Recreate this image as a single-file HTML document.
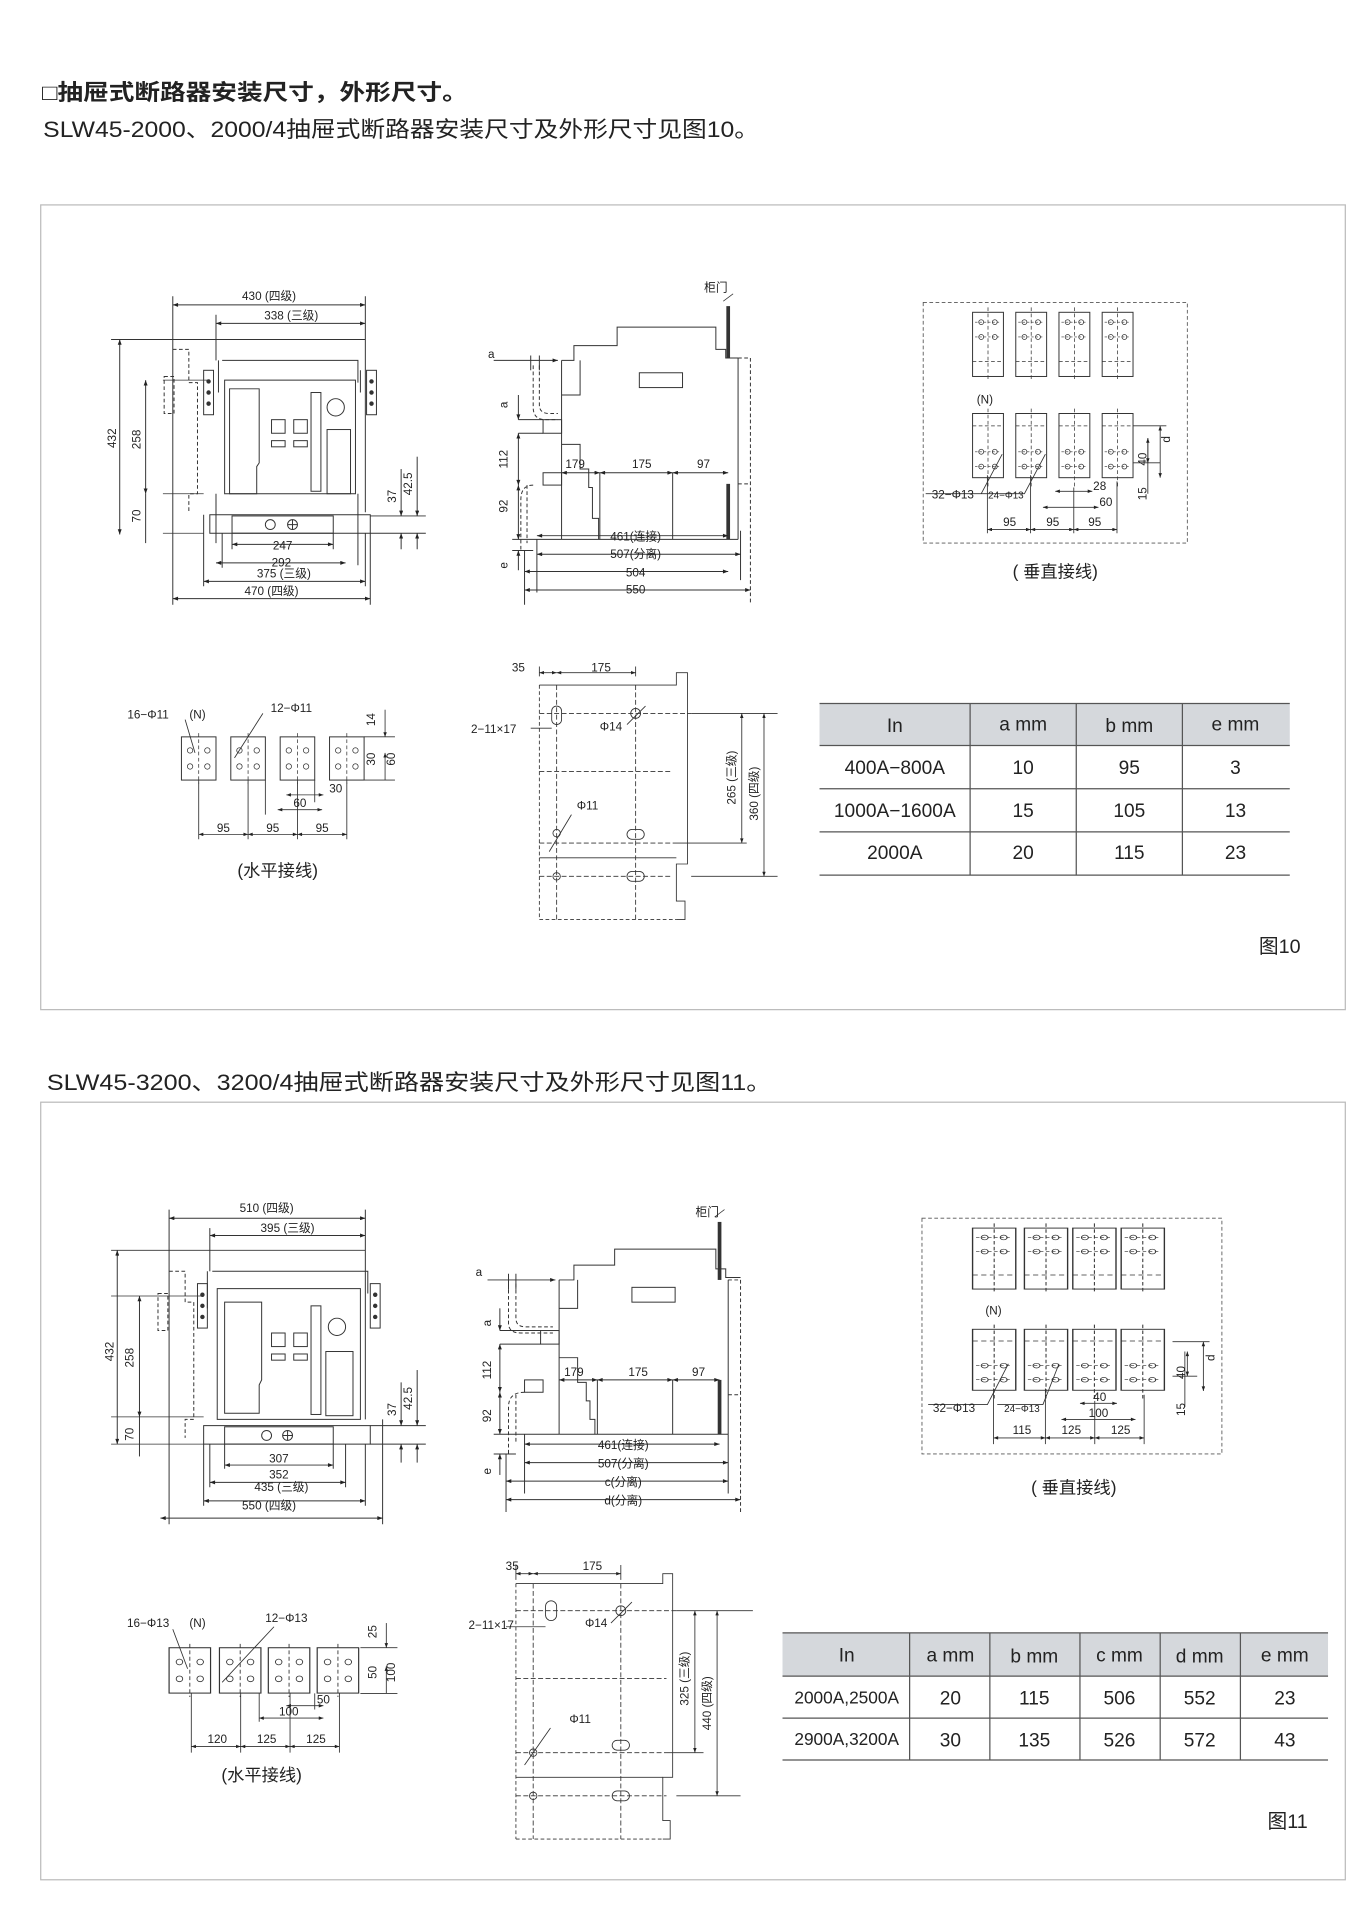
<!DOCTYPE html>
<html><head><meta charset="utf-8"><style>
html,body{margin:0;padding:0;background:#fff}
svg{display:block}
text{font-family:"Liberation Sans","Noto Sans CJK SC",sans-serif;fill:#222}
</style></head><body>
<svg width="1370" height="1923" viewBox="0 0 1110 1558" xmlns="http://www.w3.org/2000/svg">
<defs>
<marker id="ar" viewBox="0 0 8 6" refX="8" refY="3" markerWidth="6" markerHeight="4" orient="auto-start-reverse"><path d="M0,0L8,3L0,6z" fill="#222"/></marker>
<g id="bbT"><rect x="0" y="0" width="25" height="52" fill="none" stroke="#333" stroke-width="0.8"/><line x1="12.5" y1="-4" x2="12.5" y2="56" stroke="#333" stroke-width="0.6" stroke-dasharray="3,2"/><line x1="0" y1="40" x2="25" y2="40" stroke="#333" stroke-width="0.6" stroke-dasharray="3,2"/><line x1="2" y1="8" x2="23" y2="8" stroke="#333" stroke-width="0.5" stroke-dasharray="2,1.5"/><line x1="2" y1="20" x2="23" y2="20" stroke="#333" stroke-width="0.5" stroke-dasharray="2,1.5"/><circle cx="7" cy="8" r="2" fill="none" stroke="#333" stroke-width="0.6"/><circle cx="18" cy="8" r="2" fill="none" stroke="#333" stroke-width="0.6"/><circle cx="7" cy="20" r="2" fill="none" stroke="#333" stroke-width="0.6"/><circle cx="18" cy="20" r="2" fill="none" stroke="#333" stroke-width="0.6"/></g>
<g id="bbB"><rect x="0" y="0" width="25" height="52" fill="none" stroke="#333" stroke-width="0.8"/><line x1="12.5" y1="-4" x2="12.5" y2="60" stroke="#333" stroke-width="0.6" stroke-dasharray="3,2"/><line x1="0" y1="10" x2="25" y2="10" stroke="#333" stroke-width="0.6" stroke-dasharray="3,2"/><line x1="2" y1="31" x2="23" y2="31" stroke="#333" stroke-width="0.5" stroke-dasharray="2,1.5"/><line x1="2" y1="43" x2="23" y2="43" stroke="#333" stroke-width="0.5" stroke-dasharray="2,1.5"/><circle cx="7" cy="31" r="2" fill="none" stroke="#333" stroke-width="0.6"/><circle cx="18" cy="31" r="2" fill="none" stroke="#333" stroke-width="0.6"/><circle cx="7" cy="43" r="2" fill="none" stroke="#333" stroke-width="0.6"/><circle cx="18" cy="43" r="2" fill="none" stroke="#333" stroke-width="0.6"/></g>
<g id="hb"><rect x="0" y="0" width="28" height="35" fill="none" stroke="#333" stroke-width="0.8"/><line x1="14" y1="-3" x2="14" y2="38" stroke="#333" stroke-width="0.6" stroke-dasharray="3,2"/><circle cx="7" cy="11" r="2.2" fill="none" stroke="#333" stroke-width="0.6"/><circle cx="21" cy="11" r="2.2" fill="none" stroke="#333" stroke-width="0.6"/><circle cx="7" cy="24" r="2.2" fill="none" stroke="#333" stroke-width="0.6"/><circle cx="21" cy="24" r="2.2" fill="none" stroke="#333" stroke-width="0.6"/></g>
</defs>

<text x="34" y="81" font-size="18" font-weight="bold" textLength="345" lengthAdjust="spacingAndGlyphs">□抽屉式断路器安装尺寸，外形尺寸。</text>
<text x="35" y="111" font-size="18" fill="#333" textLength="580" lengthAdjust="spacingAndGlyphs">SLW45-2000、2000/4抽屉式断路器安装尺寸及外形尺寸见图10。</text>
<text x="38" y="883" font-size="18" fill="#333" textLength="587" lengthAdjust="spacingAndGlyphs">SLW45-3200、3200/4抽屉式断路器安装尺寸及外形尺寸见图11。</text>

<rect x="33" y="166" width="1057" height="652" fill="none" stroke="#bbb" stroke-width="1"/>
<rect x="33" y="893" width="1057" height="630" fill="none" stroke="#bbb" stroke-width="1"/>

<!-- ===== FIG 10 front view ===== -->
<g stroke="#333" stroke-width="0.8" fill="none">
<line x1="140" y1="247" x2="296" y2="247" marker-start="url(#ar)" marker-end="url(#ar)"/>
<line x1="175" y1="262" x2="296" y2="262" marker-start="url(#ar)" marker-end="url(#ar)"/>
<line x1="140" y1="240" x2="140" y2="490"/><line x1="296" y1="240" x2="296" y2="415"/><line x1="175" y1="255" x2="175" y2="292"/>
<line x1="90" y1="275" x2="296" y2="275"/>
<path d="M180,292H290V310"/><path d="M177,292V318M292,300V318"/>
<rect x="165" y="300" width="8" height="36"/><rect x="297" y="300" width="8" height="36"/>
<circle cx="169" cy="309" r="1.4" fill="#333"/><circle cx="169" cy="318" r="1.4" fill="#333"/><circle cx="169" cy="327" r="1.4" fill="#333"/>
<circle cx="301" cy="309" r="1.4" fill="#333"/><circle cx="301" cy="318" r="1.4" fill="#333"/><circle cx="301" cy="327" r="1.4" fill="#333"/>
<path d="M182,308H288V400H182Z"/>
<path d="M186,315H210V375L208,378V400H186Z"/>
<rect x="220" y="340" width="11" height="11"/><rect x="238" y="340" width="11" height="11"/>
<rect x="220" y="357" width="11" height="5"/><rect x="238" y="357" width="11" height="5"/>
<rect x="252" y="318" width="8" height="80"/><circle cx="272" cy="330" r="7"/>
<rect x="265" y="348" width="19" height="52"/>
<path d="M175,405V417M170,417H300V432H170Z"/>
<rect x="188" y="418" width="82" height="14"/>
<circle cx="219" cy="425" r="4"/><circle cx="237" cy="425" r="4"/><path d="M233,425H241M237,421V429"/>
<path d="M175,400V440M290,400V458M180,432V460M296,432V475M165,417V475M300,432V490M188,432V445M270,432V445"/>
<path d="M140,283H153V310H160V400H153V415" stroke-dasharray="3,2"/>
<path d="M132,308H170M132,400H165M132,432H165" stroke-width="0.6"/>
<rect x="133" y="305" width="8" height="30" stroke-dasharray="3,2"/>
<line x1="188" y1="441" x2="270" y2="441" marker-start="url(#ar)" marker-end="url(#ar)"/>
<line x1="175" y1="456" x2="280" y2="456" marker-start="url(#ar)" marker-end="url(#ar)"/>
<line x1="165" y1="471" x2="296" y2="471" marker-start="url(#ar)" marker-end="url(#ar)"/>
<line x1="140" y1="485" x2="300" y2="485" marker-start="url(#ar)" marker-end="url(#ar)"/>
<line x1="97" y1="275" x2="97" y2="433" marker-start="url(#ar)" marker-end="url(#ar)"/>
<line x1="118" y1="308" x2="118" y2="400" marker-start="url(#ar)" marker-end="url(#ar)"/>
<line x1="118" y1="400" x2="118" y2="440"/>
<path d="M300,418H345M300,432H345"/><line x1="325" y1="380" x2="325" y2="418" marker-end="url(#ar)"/><line x1="325" y1="445" x2="325" y2="432" marker-end="url(#ar)"/>
<line x1="338" y1="370" x2="338" y2="418" marker-end="url(#ar)"/><line x1="338" y1="445" x2="338" y2="432" marker-end="url(#ar)"/>
</g>
<g font-size="9.5" text-anchor="middle">
<text x="218" y="243">430 (四级)</text><text x="236" y="259">338 (三级)</text>
<text x="229" y="445">247</text><text x="228" y="459">292</text><text x="230" y="468">375 (三级)</text><text x="220" y="482">470 (四级)</text>
<text transform="translate(94,355) rotate(-90)">432</text><text transform="translate(114,356) rotate(-90)">258</text><text transform="translate(114,418) rotate(-90)">70</text>
<text transform="translate(321,402) rotate(-90)">37</text><text transform="translate(334,392) rotate(-90)">42.5</text>
</g>

<!-- FIG 10 side view -->
<g stroke="#333" stroke-width="0.8" fill="none">
<path d="M455,292V437M455,292H465V280H500V265H580V283H588V290H598"/>
<path d="M455,320H470V292"/>
<rect x="518" y="302" width="35" height="12"/>
<line x1="590" y1="248" x2="590" y2="290" stroke-width="3"/><line x1="586" y1="244" x2="594" y2="238" stroke-width="0.6"/>
<line x1="590" y1="392" x2="590" y2="437" stroke-width="3"/>
<path d="M598,290H608V490" stroke-dasharray="3,2"/><path d="M598,392H608" stroke-dasharray="3,2"/>
<path d="M598,290V437M455,437H598"/>
<path d="M455,360H470V380H477V395H480V420H485V437"/>
<path d="M486,383V437M545,383V437"/>
<line x1="455" y1="383" x2="486" y2="383" marker-start="url(#ar)" marker-end="url(#ar)"/>
<line x1="486" y1="383" x2="545" y2="383" marker-start="url(#ar)" marker-end="url(#ar)"/>
<line x1="545" y1="383" x2="590" y2="383" marker-start="url(#ar)" marker-end="url(#ar)"/>
<path d="M432,296V330Q432,340 442,340H452M437,296V328Q437,335 445,335H452" stroke-dasharray="3,2"/>
<rect x="440" y="340" width="15" height="11"/><path d="M420,340H440M420,351H440"/>
<rect x="440" y="383" width="15" height="10"/>
<path d="M432,393Q422,393 422,405V446M427,393V440" stroke-dasharray="3,2"/>
<path d="M400,292H452" marker-end="url(#ar)"/><path d="M430,288V300M437,288V300"/>
<line x1="420" y1="320" x2="420" y2="340" marker-end="url(#ar)"/>
<line x1="420" y1="351" x2="420" y2="393" marker-start="url(#ar)" marker-end="url(#ar)"/>
<line x1="420" y1="393" x2="420" y2="437" marker-start="url(#ar)" marker-end="url(#ar)"/>
<line x1="420" y1="462" x2="420" y2="446" marker-end="url(#ar)"/>
<path d="M415,437H455M415,446H432"/>
<path d="M435,437V480M425,446V490M600,430V470"/>
<line x1="435" y1="434" x2="590" y2="434" marker-start="url(#ar)" marker-end="url(#ar)"/>
<line x1="435" y1="449" x2="600" y2="449" marker-start="url(#ar)" marker-end="url(#ar)"/>
<line x1="425" y1="463" x2="590" y2="463" marker-start="url(#ar)" marker-end="url(#ar)"/>
<line x1="425" y1="478" x2="608" y2="478" marker-start="url(#ar)" marker-end="url(#ar)"/>
</g>
<g font-size="9.5" text-anchor="middle">
<text x="580" y="236">柜门</text><text x="398" y="290">a</text>
<text transform="translate(411,328) rotate(-90)">a</text><text transform="translate(411,372) rotate(-90)">112</text><text transform="translate(411,410) rotate(-90)">92</text><text transform="translate(411,458) rotate(-90)">e</text>
<text x="466" y="379">179</text><text x="520" y="379">175</text><text x="570" y="379">97</text>
<text x="515" y="438">461(连接)</text><text x="515" y="452">507(分离)</text><text x="515" y="467">504</text><text x="515" y="481">550</text>
</g>

<!-- FIG 10 vertical connection -->
<rect x="748" y="245" width="214" height="195" fill="none" stroke="#555" stroke-width="0.7" stroke-dasharray="3,2"/>
<use href="#bbT" x="788" y="253"/>
<use href="#bbT" x="823" y="253"/><use href="#bbT" x="858" y="253"/><use href="#bbT" x="893" y="253"/>
<use href="#bbB" x="788" y="335"/><use href="#bbB" x="823" y="335"/><use href="#bbB" x="858" y="335"/><use href="#bbB" x="893" y="335"/>
<g stroke="#333" stroke-width="0.7" fill="none">
<path d="M918,345H945M918,375H940M930,355V400"/>
<line x1="940" y1="345" x2="940" y2="387" marker-start="url(#ar)" marker-end="url(#ar)"/>
<line x1="930" y1="355" x2="930" y2="375" marker-start="url(#ar)" marker-end="url(#ar)"/>
<path d="M812,368L795,400H750M847,368L830,400H790"/>
<path d="M800,385V432M835,385V432M870,395V432M905,390V432"/>
<line x1="800" y1="429" x2="835" y2="429" marker-start="url(#ar)" marker-end="url(#ar)"/>
<line x1="835" y1="429" x2="870" y2="429" marker-start="url(#ar)" marker-end="url(#ar)"/>
<line x1="870" y1="429" x2="905" y2="429" marker-start="url(#ar)" marker-end="url(#ar)"/>
<line x1="855" y1="398" x2="885" y2="398" marker-start="url(#ar)" marker-end="url(#ar)"/>
<line x1="845" y1="411" x2="890" y2="411" marker-start="url(#ar)" marker-end="url(#ar)"/>
</g>
<g font-size="9.5" text-anchor="middle">
<text x="798" y="327">(N)</text><text x="772" y="404">32−Φ13</text><text x="815" y="404" font-size="8">24−Φ13</text>
<text x="891" y="397">28</text><text x="896" y="410">60</text>
<text x="818" y="426">95</text><text x="853" y="426">95</text><text x="887" y="426">95</text>
<text transform="translate(929,372) rotate(-90)">40</text><text transform="translate(948,356) rotate(-90)">d</text><text transform="translate(929,400) rotate(-90)">15</text>
</g>
<text x="855" y="468" font-size="14" text-anchor="middle">( 垂直接线)</text>

<!-- FIG 10 horizontal connection -->
<use href="#hb" x="147" y="597"/>
<use href="#hb" x="187" y="597"/><use href="#hb" x="227" y="597"/><use href="#hb" x="267" y="597"/>
<g stroke="#333" stroke-width="0.7" fill="none">
<path d="M295,597H320M295,632H320"/><line x1="312" y1="575" x2="312" y2="597" marker-end="url(#ar)"/>
<line x1="312" y1="632" x2="312" y2="610" marker-end="url(#ar)"/>
<path d="M150,583L158,610M213,578L190,614"/>
<path d="M161,632V680M201,632V680M241,632V680M281,632V680M215,632V660M255,632V650"/>
<line x1="161" y1="676" x2="201" y2="676" marker-start="url(#ar)" marker-end="url(#ar)"/>
<line x1="201" y1="676" x2="241" y2="676" marker-start="url(#ar)" marker-end="url(#ar)"/>
<line x1="241" y1="676" x2="281" y2="676" marker-start="url(#ar)" marker-end="url(#ar)"/>
<line x1="225" y1="656" x2="261" y2="656" marker-start="url(#ar)" marker-end="url(#ar)"/>
<line x1="232" y1="644" x2="262" y2="644" marker-start="url(#ar)" marker-end="url(#ar)"/>
</g>
<g font-size="9.5" text-anchor="middle">
<text x="120" y="582">16−Φ11</text><text x="160" y="582">(N)</text><text x="236" y="577">12−Φ11</text>
<text transform="translate(304,583) rotate(-90)">14</text><text transform="translate(304,615) rotate(-90)">30</text><text transform="translate(320,615) rotate(-90)">60</text>
<text x="272" y="642">30</text><text x="243" y="654">60</text>
<text x="181" y="674">95</text><text x="221" y="674">95</text><text x="261" y="674">95</text>
</g>
<text x="225" y="710" font-size="14" text-anchor="middle">(水平接线)</text>

<!-- FIG 10 mounting holes -->
<g stroke="#333" stroke-width="0.7" fill="none">
<path d="M437,555H548V545H557V700H548V730H555V745H548" />
<path d="M437,555V745M437,745H548" stroke-dasharray="3,2"/>
<path d="M451,555V745M515,555V745" stroke-dasharray="4,2"/>
<path d="M437,578H560M437,625H545M437,683H545M437,710H545" stroke-dasharray="4,2"/>
<path d="M437,695H548"/>
<rect x="447" y="572" width="8" height="15" rx="4"/><circle cx="515" cy="578" r="4"/>
<rect x="508" y="672" width="14" height="8" rx="4"/><circle cx="451" cy="675" r="3"/>
<rect x="508" y="706" width="14" height="8" rx="4"/><circle cx="451" cy="710" r="3"/>
<path d="M437,548V540M515,548V540"/>
<line x1="437" y1="545" x2="451" y2="545" marker-start="url(#ar)" marker-end="url(#ar)"/>
<line x1="451" y1="545" x2="515" y2="545" marker-start="url(#ar)" marker-end="url(#ar)"/>
<path d="M560,578H630M560,710H630"/>
<line x1="601" y1="578" x2="601" y2="683" marker-start="url(#ar)" marker-end="url(#ar)"/>
<line x1="619" y1="578" x2="619" y2="710" marker-start="url(#ar)" marker-end="url(#ar)"/>
<path d="M545,683H605"/>
<path d="M430,590H447M523,572L508,587M463,660L445,690"/>
</g>
<g font-size="9.5" text-anchor="middle">
<text x="420" y="544">35</text><text x="487" y="544">175</text><text x="400" y="594">2−11×17</text><text x="495" y="592">Φ14</text><text x="476" y="656">Φ11</text>
<text transform="translate(596,630) rotate(-90)">265 (三级)</text><text transform="translate(614,643) rotate(-90)">360 (四级)</text>
</g>

<!-- FIG 10 table -->
<rect x="664" y="570" width="381" height="34" fill="#d5d8dc"/>
<g stroke="#555" stroke-width="1"><line x1="664" y1="570" x2="1045" y2="570"/><line x1="664" y1="604" x2="1045" y2="604"/><line x1="664" y1="639" x2="1045" y2="639"/><line x1="664" y1="674" x2="1045" y2="674"/><line x1="664" y1="709" x2="1045" y2="709"/>
<line x1="786" y1="570" x2="786" y2="709"/><line x1="872" y1="570" x2="872" y2="709"/><line x1="958" y1="570" x2="958" y2="709"/></g>
<g font-size="15.5" text-anchor="middle">
<text x="725" y="593">In</text><text x="829" y="592">a  mm</text><text x="915" y="593">b  mm</text><text x="1001" y="592">e  mm</text>
<text x="725" y="627">400A−800A</text><text x="829" y="627">10</text><text x="915" y="627">95</text><text x="1001" y="627">3</text>
<text x="725" y="662">1000A−1600A</text><text x="829" y="662">15</text><text x="915" y="662">105</text><text x="1001" y="662">13</text>
<text x="725" y="696">2000A</text><text x="829" y="696">20</text><text x="915" y="696">115</text><text x="1001" y="696">23</text>
</g>
<text x="1020" y="772" font-size="16">图10</text>

<!-- ===== FIG 11 front view ===== -->
<g stroke="#333" stroke-width="0.8" fill="none">
<line x1="137" y1="987" x2="296" y2="987" marker-start="url(#ar)" marker-end="url(#ar)"/>
<line x1="170" y1="1001" x2="296" y2="1001" marker-start="url(#ar)" marker-end="url(#ar)"/>
<line x1="137" y1="980" x2="137" y2="1235"/><line x1="296" y1="980" x2="296" y2="1150"/><line x1="170" y1="995" x2="170" y2="1030"/>
<line x1="90" y1="1013" x2="296" y2="1013"/>
<path d="M172,1030H298V1048M168,1030V1060"/>
<rect x="160" y="1040" width="8" height="36"/><rect x="300" y="1040" width="8" height="36"/>
<circle cx="164" cy="1049" r="1.4" fill="#333"/><circle cx="164" cy="1058" r="1.4" fill="#333"/><circle cx="164" cy="1067" r="1.4" fill="#333"/>
<circle cx="304" cy="1049" r="1.4" fill="#333"/><circle cx="304" cy="1058" r="1.4" fill="#333"/><circle cx="304" cy="1067" r="1.4" fill="#333"/>
<path d="M176,1044H292V1150H176Z"/>
<path d="M182,1055H212V1118L210,1122V1145H182Z"/>
<rect x="220" y="1080" width="11" height="11"/><rect x="238" y="1080" width="11" height="11"/>
<rect x="220" y="1097" width="11" height="5"/><rect x="238" y="1097" width="11" height="5"/>
<rect x="252" y="1058" width="8" height="88"/><circle cx="273" cy="1075" r="7"/>
<rect x="264" y="1095" width="22" height="52"/>
<path d="M165,1155H300V1170H165Z"/><rect x="182" y="1156" width="88" height="14"/>
<circle cx="216" cy="1163" r="4"/><circle cx="233" cy="1163" r="4"/><path d="M229,1163H237M233,1159V1167"/>
<path d="M182,1170V1190M270,1170V1190M170,1170V1205M280,1170V1205M165,1170V1220M296,1170V1220M310,1150V1235"/>
<path d="M137,1030H150V1055H157V1150H150V1165" stroke-dasharray="3,2"/>
<rect x="128" y="1048" width="8" height="30" stroke-dasharray="3,2"/>
<path d="M90,1050H165M90,1148H165M90,1170H165" stroke-width="0.6"/>
<line x1="182" y1="1187" x2="270" y2="1187" marker-start="url(#ar)" marker-end="url(#ar)"/>
<line x1="170" y1="1201" x2="280" y2="1201" marker-start="url(#ar)" marker-end="url(#ar)"/>
<line x1="165" y1="1216" x2="296" y2="1216" marker-start="url(#ar)" marker-end="url(#ar)"/>
<line x1="130" y1="1230" x2="310" y2="1230" marker-start="url(#ar)" marker-end="url(#ar)"/>
<line x1="95" y1="1013" x2="95" y2="1170" marker-start="url(#ar)" marker-end="url(#ar)"/>
<line x1="113" y1="1050" x2="113" y2="1148" marker-start="url(#ar)" marker-end="url(#ar)"/>
<line x1="113" y1="1148" x2="113" y2="1180"/>
<path d="M300,1155H345M300,1170H345"/><line x1="325" y1="1120" x2="325" y2="1155" marker-end="url(#ar)"/><line x1="325" y1="1185" x2="325" y2="1170" marker-end="url(#ar)"/>
<line x1="338" y1="1110" x2="338" y2="1155" marker-end="url(#ar)"/><line x1="338" y1="1185" x2="338" y2="1170" marker-end="url(#ar)"/>
</g>
<g font-size="9.5" text-anchor="middle">
<text x="216" y="982">510 (四级)</text><text x="233" y="998">395 (三级)</text>
<text x="226" y="1185">307</text><text x="226" y="1198">352</text><text x="228" y="1208">435 (三级)</text><text x="218" y="1223">550 (四级)</text>
<text transform="translate(92,1095) rotate(-90)">432</text><text transform="translate(108,1100) rotate(-90)">258</text><text transform="translate(108,1162) rotate(-90)">70</text>
<text transform="translate(321,1142) rotate(-90)">37</text><text transform="translate(334,1133) rotate(-90)">42.5</text>
</g>

<!-- FIG 11 side view -->
<g stroke="#333" stroke-width="0.8" fill="none">
<path d="M453,1037V1162M453,1037H465V1025H498V1012H580V1028H588V1035H600"/>
<path d="M453,1060H468V1037"/>
<rect x="512" y="1043" width="35" height="12"/>
<line x1="583" y1="990" x2="583" y2="1037" stroke-width="3"/><line x1="579" y1="986" x2="587" y2="980" stroke-width="0.6"/>
<line x1="583" y1="1118" x2="583" y2="1162" stroke-width="3"/>
<path d="M590,1037H600V1225" stroke-dasharray="3,2"/><path d="M590,1130H600" stroke-dasharray="3,2"/>
<path d="M590,1037V1162M453,1162H590"/>
<path d="M453,1100H468V1120H475V1135H478V1150H482V1162"/>
<path d="M484,1118V1162M545,1118V1162"/>
<line x1="453" y1="1118" x2="484" y2="1118" marker-start="url(#ar)" marker-end="url(#ar)"/>
<line x1="484" y1="1118" x2="545" y2="1118" marker-start="url(#ar)" marker-end="url(#ar)"/>
<line x1="545" y1="1118" x2="583" y2="1118" marker-start="url(#ar)" marker-end="url(#ar)"/>
<path d="M412,1040V1072Q412,1080 422,1080H448M418,1040V1068Q418,1075 426,1075H448" stroke-dasharray="3,2"/>
<rect x="438" y="1078" width="15" height="11"/><path d="M405,1078H438M405,1089H438"/>
<rect x="425" y="1118" width="15" height="10"/>
<path d="M425,1128Q412,1128 412,1140V1178M418,1130V1170" stroke-dasharray="3,2"/>
<path d="M395,1037H450" marker-end="url(#ar)"/><path d="M412,1032V1045M418,1032V1045"/>
<line x1="405" y1="1060" x2="405" y2="1078" marker-end="url(#ar)"/>
<line x1="405" y1="1089" x2="405" y2="1128" marker-start="url(#ar)" marker-end="url(#ar)"/>
<line x1="405" y1="1128" x2="405" y2="1162" marker-start="url(#ar)" marker-end="url(#ar)"/>
<line x1="405" y1="1195" x2="405" y2="1178" marker-end="url(#ar)"/>
<path d="M400,1162H453M400,1178H418"/>
<path d="M425,1162V1210M410,1178V1225M590,1162V1210"/>
<line x1="425" y1="1170" x2="583" y2="1170" marker-start="url(#ar)" marker-end="url(#ar)"/>
<line x1="425" y1="1185" x2="590" y2="1185" marker-start="url(#ar)" marker-end="url(#ar)"/>
<line x1="410" y1="1200" x2="590" y2="1200" marker-start="url(#ar)" marker-end="url(#ar)"/>
<line x1="410" y1="1215" x2="600" y2="1215" marker-start="url(#ar)" marker-end="url(#ar)"/>
</g>
<g font-size="9.5" text-anchor="middle">
<text x="573" y="985">柜门</text><text x="388" y="1034">a</text>
<text transform="translate(398,1072) rotate(-90)">a</text><text transform="translate(398,1110) rotate(-90)">112</text><text transform="translate(398,1147) rotate(-90)">92</text><text transform="translate(398,1192) rotate(-90)">e</text>
<text x="465" y="1115">179</text><text x="517" y="1115">175</text><text x="566" y="1115">97</text>
<text x="505" y="1174">461(连接)</text><text x="505" y="1189">507(分离)</text><text x="505" y="1204">c(分离)</text><text x="505" y="1219">d(分离)</text>
</g>

<!-- FIG 11 vertical connection -->
<rect x="747" y="987" width="243" height="191" fill="none" stroke="#555" stroke-width="0.7" stroke-dasharray="3,2"/>
<g transform="translate(788,995) scale(1.4,0.95)"><use href="#bbT"/><use href="#bbT" x="30"/><use href="#bbT" x="58"/><use href="#bbT" x="86"/></g>
<g transform="translate(788,1077) scale(1.4,0.95)"><use href="#bbB"/><use href="#bbB" x="30"/><use href="#bbB" x="58"/><use href="#bbB" x="86"/></g>
<g stroke="#333" stroke-width="0.7" fill="none">
<path d="M950,1087H980M950,1115H970M960,1095V1140"/>
<line x1="975" y1="1087" x2="975" y2="1127" marker-start="url(#ar)" marker-end="url(#ar)"/>
<line x1="962" y1="1095" x2="962" y2="1115" marker-start="url(#ar)" marker-end="url(#ar)"/>
<path d="M817,1105L800,1138H752M858,1105L845,1138H808"/>
<path d="M805,1125V1170M847,1125V1170M887,1135V1170M927,1130V1170"/>
<line x1="805" y1="1165" x2="847" y2="1165" marker-start="url(#ar)" marker-end="url(#ar)"/>
<line x1="847" y1="1165" x2="887" y2="1165" marker-start="url(#ar)" marker-end="url(#ar)"/>
<line x1="887" y1="1165" x2="927" y2="1165" marker-start="url(#ar)" marker-end="url(#ar)"/>
<line x1="875" y1="1137" x2="905" y2="1137" marker-start="url(#ar)" marker-end="url(#ar)"/>
<line x1="860" y1="1150" x2="920" y2="1150" marker-start="url(#ar)" marker-end="url(#ar)"/>
</g>
<g font-size="9.5" text-anchor="middle">
<text x="805" y="1065">(N)</text><text x="773" y="1144">32−Φ13</text><text x="828" y="1144" font-size="8">24−Φ13</text>
<text x="891" y="1135">40</text><text x="890" y="1148">100</text>
<text x="828" y="1162">115</text><text x="868" y="1162">125</text><text x="908" y="1162">125</text>
<text transform="translate(960,1112) rotate(-90)">40</text><text transform="translate(984,1100) rotate(-90)">d</text><text transform="translate(960,1142) rotate(-90)">15</text>
</g>
<text x="870" y="1210" font-size="14" text-anchor="middle">( 垂直接线)</text>

<!-- FIG 11 horizontal connection -->
<g transform="translate(137,1335) scale(1.2,1.05)"><use href="#hb"/><use href="#hb" x="34"/><use href="#hb" x="67"/><use href="#hb" x="100"/></g>
<g stroke="#333" stroke-width="0.7" fill="none">
<path d="M292,1335H322M292,1372H322"/><line x1="313" y1="1315" x2="313" y2="1335" marker-end="url(#ar)"/>
<line x1="313" y1="1372" x2="313" y2="1350" marker-end="url(#ar)"/>
<path d="M140,1320L152,1352M222,1318L180,1363"/>
<path d="M155,1372V1420M195,1372V1420M235,1372V1420M275,1372V1420M210,1372V1395M255,1372V1385"/>
<line x1="155" y1="1415" x2="195" y2="1415" marker-start="url(#ar)" marker-end="url(#ar)"/>
<line x1="195" y1="1415" x2="235" y2="1415" marker-start="url(#ar)" marker-end="url(#ar)"/>
<line x1="235" y1="1415" x2="275" y2="1415" marker-start="url(#ar)" marker-end="url(#ar)"/>
<line x1="210" y1="1392" x2="262" y2="1392" marker-start="url(#ar)" marker-end="url(#ar)"/>
<line x1="232" y1="1382" x2="262" y2="1382" marker-start="url(#ar)" marker-end="url(#ar)"/>
</g>
<g font-size="9.5" text-anchor="middle">
<text x="120" y="1318">16−Φ13</text><text x="160" y="1318">(N)</text><text x="232" y="1314">12−Φ13</text>
<text transform="translate(305,1322) rotate(-90)">25</text><text transform="translate(305,1355) rotate(-90)">50</text><text transform="translate(320,1355) rotate(-90)">100</text>
<text x="262" y="1380">50</text><text x="234" y="1390">100</text>
<text x="176" y="1412">120</text><text x="216" y="1412">125</text><text x="256" y="1412">125</text>
</g>
<text x="212" y="1443" font-size="14" text-anchor="middle">(水平接线)</text>

<!-- FIG 11 mounting holes -->
<g stroke="#333" stroke-width="0.7" fill="none">
<path d="M418,1283H537V1275H545V1440H537V1475H543V1490H537"/>
<path d="M418,1283V1490M418,1490H537" stroke-dasharray="3,2"/>
<path d="M432,1283V1490M503,1283V1490" stroke-dasharray="4,2"/>
<path d="M418,1305H548M418,1360H540M418,1420H540M418,1455H540" stroke-dasharray="4,2"/>
<path d="M418,1440H537"/>
<rect x="442" y="1297" width="9" height="16" rx="4.5"/><circle cx="503" cy="1305" r="4"/>
<rect x="496" y="1410" width="14" height="8" rx="4"/><circle cx="432" cy="1420" r="3"/>
<rect x="496" y="1451" width="14" height="8" rx="4"/><circle cx="432" cy="1455" r="3"/>
<path d="M418,1280V1268M503,1280V1268"/>
<line x1="418" y1="1275" x2="432" y2="1275" marker-start="url(#ar)" marker-end="url(#ar)"/>
<line x1="432" y1="1275" x2="503" y2="1275" marker-start="url(#ar)" marker-end="url(#ar)"/>
<path d="M548,1305H610M548,1455H600"/>
<line x1="563" y1="1305" x2="563" y2="1420" marker-start="url(#ar)" marker-end="url(#ar)"/>
<line x1="581" y1="1305" x2="581" y2="1455" marker-start="url(#ar)" marker-end="url(#ar)"/>
<path d="M540,1420H570"/>
<path d="M410,1318H442M512,1298L495,1315M446,1400L425,1430"/>
</g>
<g font-size="9.5" text-anchor="middle">
<text x="415" y="1272">35</text><text x="480" y="1272">175</text><text x="398" y="1320">2−11×17</text><text x="483" y="1318">Φ14</text><text x="470" y="1396">Φ11</text>
<text transform="translate(558,1360) rotate(-90)">325 (三级)</text><text transform="translate(576,1380) rotate(-90)">440 (四级)</text>
</g>

<!-- FIG 11 table -->
<rect x="634" y="1323" width="442" height="35" fill="#d5d8dc"/>
<g stroke="#555" stroke-width="1"><line x1="634" y1="1323" x2="1076" y2="1323"/><line x1="634" y1="1358" x2="1076" y2="1358"/><line x1="634" y1="1392" x2="1076" y2="1392"/><line x1="634" y1="1426" x2="1076" y2="1426"/>
<line x1="737" y1="1323" x2="737" y2="1426"/><line x1="802" y1="1323" x2="802" y2="1426"/><line x1="875" y1="1323" x2="875" y2="1426"/><line x1="940" y1="1323" x2="940" y2="1426"/><line x1="1005" y1="1323" x2="1005" y2="1426"/></g>
<g font-size="15.5" text-anchor="middle">
<text x="686" y="1346">In</text><text x="770" y="1346">a  mm</text><text x="838" y="1347">b  mm</text><text x="907" y="1346">c  mm</text><text x="972" y="1347">d  mm</text><text x="1041" y="1346">e  mm</text>
<text x="686" y="1380" font-size="14">2000A,2500A</text><text x="770" y="1381">20</text><text x="838" y="1381">115</text><text x="907" y="1381">506</text><text x="972" y="1381">552</text><text x="1041" y="1381">23</text>
<text x="686" y="1414" font-size="14">2900A,3200A</text><text x="770" y="1415">30</text><text x="838" y="1415">135</text><text x="907" y="1415">526</text><text x="972" y="1415">572</text><text x="1041" y="1415">43</text>
</g>
<text x="1027" y="1481" font-size="16">图11</text>
</svg>
</body></html>
